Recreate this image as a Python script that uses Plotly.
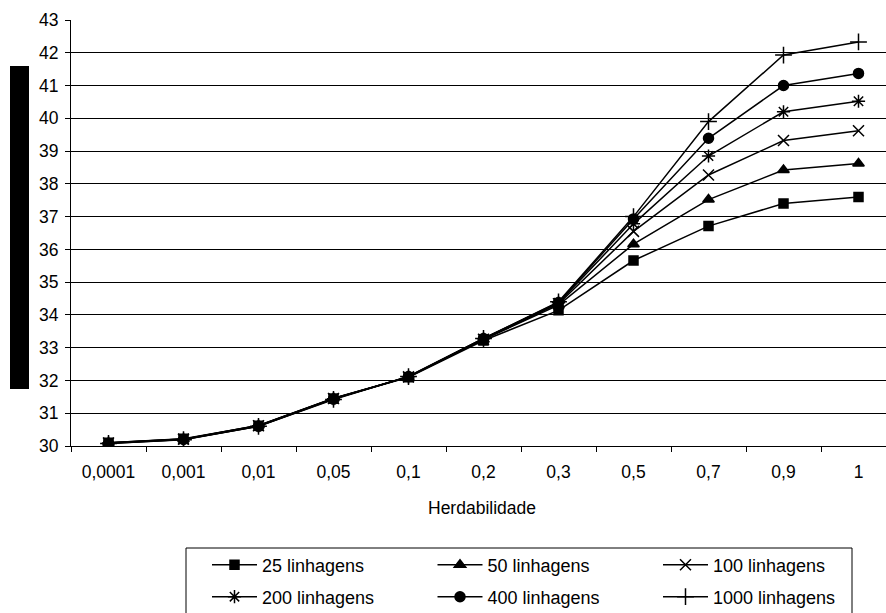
import plotly.graph_objects as go

# Heritability levels (category axis labels)
herdabilidade = ["0,0001", "0,001", "0,01", "0,05", "0,1", "0,2", "0,3", "0,5", "0,7", "0,9", "1"]

# Response for each number of lines
linhagens_25 = [30.10, 30.22, 30.62, 31.45, 32.10, 33.22, 34.14, 35.66, 36.71, 37.40, 37.60]
linhagens_50 = [30.10, 30.21, 30.63, 31.46, 32.11, 33.25, 34.30, 36.16, 37.52, 38.42, 38.62]
linhagens_100 = [30.09, 30.21, 30.62, 31.45, 32.11, 33.26, 34.34, 36.55, 38.27, 39.32, 39.62]
linhagens_200 = [30.09, 30.20, 30.61, 31.44, 32.11, 33.27, 34.37, 36.78, 38.85, 40.20, 40.52]
linhagens_400 = [30.08, 30.20, 30.60, 31.43, 32.12, 33.28, 34.38, 36.93, 39.39, 41.00, 41.37]
linhagens_1000 = [30.08, 30.19, 30.60, 31.42, 32.12, 33.28, 34.40, 37.00, 39.90, 41.93, 42.33]

y_ticks = list(range(30, 44))

FONT = "Liberation Sans, Arial, sans-serif"
W, H = 886, 613
ML, MR, MT, MB = 71, 0, 20, 167

series = [
    ("25 linhagens", linhagens_25, dict(symbol="square", size=9), "legend"),
    ("50 linhagens", linhagens_50, dict(symbol="triangle-up", size=10), "legend"),
    ("100 linhagens", linhagens_100, dict(symbol="x-thin-open", size=11), "legend"),
    ("200 linhagens", linhagens_200, dict(symbol="asterisk-open", size=11), "legend2"),
    ("400 linhagens", linhagens_400, dict(symbol="circle", size=10), "legend2"),
    ("1000 linhagens", linhagens_1000, dict(symbol="cross-thin-open", size=12), "legend2"),
]

fig = go.Figure()
for name, vals, mk, lg in series:
    fig.add_trace(go.Scatter(
        x=herdabilidade, y=vals, name=name, mode="lines+markers",
        line=dict(color="black", width=1.5),
        marker=dict(color="black", line=dict(color="black", width=1.5), **mk),
        legend=lg,
    ))

plot_w = W - ML - MR
cat_px = 75.0
x_max = -0.5 + plot_w / cat_px

def px_x(p):
    return (p - ML) / plot_w

def px_y(p):
    return (H - MB - p) / (H - MB - MT)

legend_common = dict(
    orientation="h", xref="container", yref="container",
    xanchor="left", yanchor="middle",
    bgcolor="rgba(0,0,0,0)", borderwidth=0,
    font=dict(family=FONT, size=18, color="black"),
    itemwidth=45, entrywidth=165.5, entrywidthmode="pixels",
    itemclick=False, itemdoubleclick=False,
)

fig.update_layout(
    width=W, height=H,
    margin=dict(l=ML, r=MR, t=MT, b=MB, autoexpand=False),
    paper_bgcolor="white", plot_bgcolor="white",
    font=dict(family=FONT, size=17.5, color="black"),
    showlegend=True,
    legend=dict(x=207 / W, y=1 - 565 / H, **legend_common),
    legend2=dict(x=207 / W, y=1 - 597 / H, **legend_common),
    xaxis=dict(
        type="category", range=[-0.5, x_max],
        showgrid=False, showline=True, linecolor="black", linewidth=1,
        ticks="outside", ticklen=5, tickcolor="black", tickson="boundaries",
        ticklabelstandoff=10,
        tickfont=dict(family=FONT, size=17.5, color="black"),
        zeroline=False, fixedrange=True,
    ),
    yaxis=dict(
        range=[30, 43], tickvals=y_ticks,
        showgrid=True, gridcolor="black", gridwidth=1,
        showline=True, linecolor="black", linewidth=1,
        ticks="outside", ticklen=5, tickcolor="black",
        ticklabelstandoff=3,
        tickfont=dict(family=FONT, size=17.5, color="black"),
        zeroline=False, fixedrange=True,
    ),
    annotations=[dict(
        text="Herdabilidade", xref="paper", yref="paper",
        x=px_x(482), y=px_y(508), xanchor="center", yanchor="middle",
        showarrow=False, font=dict(family=FONT, size=17.5, color="black"),
    )],
    shapes=[
        # vertical bar beside the value axis
        dict(type="rect", xref="paper", yref="paper",
             x0=px_x(10), x1=px_x(29), y0=px_y(389), y1=px_y(66),
             fillcolor="black", line=dict(width=0), layer="above"),
        # frame around the legend rows
        dict(type="rect", xref="paper", yref="paper",
             x0=px_x(186), x1=px_x(852), y0=px_y(640), y1=px_y(548),
             fillcolor="rgba(0,0,0,0)", line=dict(color="black", width=1), layer="above"),
    ],
)

fig.write_html("out.html")
